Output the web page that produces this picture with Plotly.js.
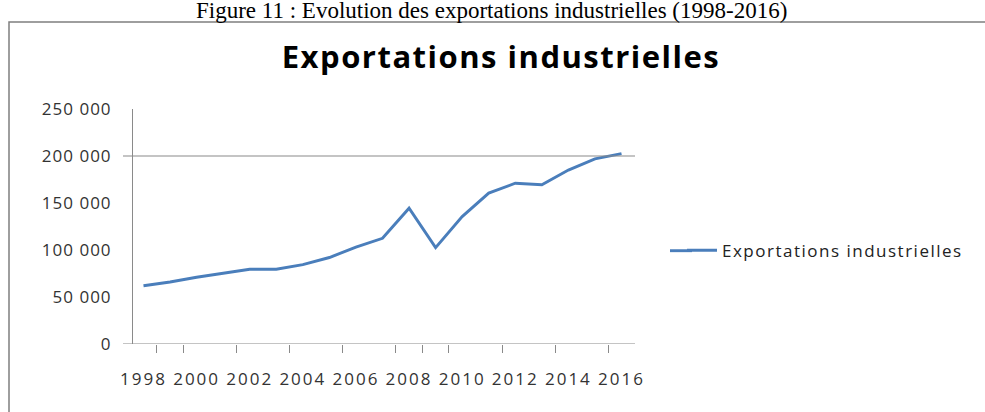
<!DOCTYPE html>
<html>
<head>
<meta charset="utf-8">
<script src="https://cdn.plot.ly/plotly-3.0.1.min.js"></script>
<style>
  html, body { margin: 0; padding: 0; background: #fff; }
  #chart { width: 985px; height: 412px; }
  .xtick text { letter-spacing: 2px; }
  .ytick text { letter-spacing: 1px; }
  .legendtext { letter-spacing: 1.5px; }
  .gtitle { letter-spacing: 1.5px; }
</style>
</head>
<body>
<div id="chart"></div>
<script>
// ---- data ----
const years = [1998, 1999, 2000, 2001, 2002, 2003, 2004, 2005, 2006, 2007,
               2008, 2009, 2010, 2011, 2012, 2013, 2014, 2015, 2016];
const exportations = [62000, 66000, 71000, 75500, 79500, 79500, 84500, 92000, 103000, 112500,
                      144500, 102500, 135500, 160500, 171000, 169500, 185000, 197000, 202500];
const xTickVals = [1998, 2000, 2002, 2004, 2006, 2008, 2010, 2012, 2014, 2016];
const xTickText = ["1998", "2000", "2002", "2004", "2006", "2008", "2010", "2012", "2014", "2016"];
const xMarkVals = [1998.5, 1999.5, 2001.5, 2003.5, 2005.5, 2007.5, 2008.5, 2009.5, 2011.5, 2013.5, 2015.5];
const yTickVals = [0, 50000, 100000, 150000, 200000, 250000];
const yTickText = ["0", "50 000", "100 000", "150 000", "200 000", "250 000"];
const seriesName = "Exportations industrielles";
const chartTitle = "Exportations industrielles";
const caption = "Figure 11 : Evolution des exportations industrielles (1998-2016)";

const lineColor = "#4A7EBB";
const axisColor = "#8a8a8a";
const labelFont = { family: "Open Sans", size: 17, color: "#333333" };

const trace = {
  x: years,
  y: exportations,
  type: "scatter",
  mode: "lines",
  name: seriesName,
  line: { color: lineColor, width: 2.9 },
  hoverinfo: "x+y"
};

const layout = {
  width: 985,
  height: 412,
  margin: { l: 133, r: 350, t: 109, b: 68, pad: 0 },
  paper_bgcolor: "#ffffff",
  plot_bgcolor: "#ffffff",
  showlegend: true,
  title: {
    text: chartTitle,
    font: { family: "Open Sans", size: 31, color: "#000000", weight: "bold" },
    x: 501 / 985, xanchor: "center", xref: "container",
    y: 1 - 57 / 412, yanchor: "middle", yref: "container"
  },
  xaxis: {
    range: [1997.605, 2016.508],
    tickvals: xTickVals,
    ticktext: xTickText,
    ticks: "",
    showline: false,
    showgrid: false,
    zeroline: false,
    tickfont: labelFont,
    ticklabelstandoff: 23,
    fixedrange: true
  },
  xaxis2: {
    overlaying: "x",
    matches: "x",
    side: "bottom",
    range: [1997.605, 2016.508],
    tickvals: xMarkVals,
    ticks: "outside",
    ticklen: 8,
    tickwidth: 1,
    tickcolor: axisColor,
    showticklabels: false,
    showgrid: false,
    zeroline: false,
    showline: false
  },
  yaxis: {
    range: [0, 250000],
    tickvals: yTickVals,
    ticktext: yTickText,
    ticks: "",
    showline: true,
    linecolor: axisColor,
    linewidth: 1,
    showgrid: false,
    zeroline: false,
    tickfont: labelFont,
    ticklabelstandoff: 17,
    fixedrange: true
  },
  legend: {
    x: (682 - 133) / 502, xanchor: "left",
    y: 1 - (250.7 - 109) / 235, yanchor: "middle",
    font: { family: "Open Sans", size: 17, color: "#222222" },
    bgcolor: "rgba(0,0,0,0)",
    borderwidth: 0
  },
  shapes: [
    // horizontal line at 200 000
    { type: "line", xref: "paper", yref: "y", x0: -10 / 502, x1: 1, y0: 200000, y1: 200000,
      line: { color: axisColor, width: 1.2 } },
    // category axis line at 0
    { type: "line", xref: "paper", yref: "y", x0: -10 / 502, x1: 1, y0: 0, y1: 0,
      line: { color: axisColor, width: 1.2 } },
    // legend line extension
    { type: "line", xref: "paper", yref: "paper",
      x0: (670 - 133) / 502, x1: (692 - 133) / 502,
      y0: 1 - (250.7 - 109) / 235, y1: 1 - (250.7 - 109) / 235,
      line: { color: lineColor, width: 2.9 } },
    // outer frame
    { type: "rect", xref: "paper", yref: "paper",
      x0: (9 - 133) / 502, x1: (995 - 133) / 502,
      y0: 1 - (430 - 109) / 235, y1: 1 - (22 - 109) / 235,
      line: { color: "#7f7f7f", width: 1.5 }, fillcolor: "rgba(0,0,0,0)" }
  ],
  annotations: [
    { text: caption, xref: "paper", yref: "paper",
      x: (491 - 133) / 502, xanchor: "center",
      y: 1 - (10.5 - 109) / 235, yanchor: "middle",
      showarrow: false,
      font: { family: "Liberation Serif", size: 23, color: "#000000" } }
  ]
};

const tickTrace = {
  x: [years[0]], y: [null], xaxis: "x2", yaxis: "y",
  type: "scatter", mode: "lines", showlegend: false, hoverinfo: "skip"
};

Plotly.newPlot("chart", [trace, tickTrace], layout, { displayModeBar: false, staticPlot: true });
</script>
</body>
</html>
